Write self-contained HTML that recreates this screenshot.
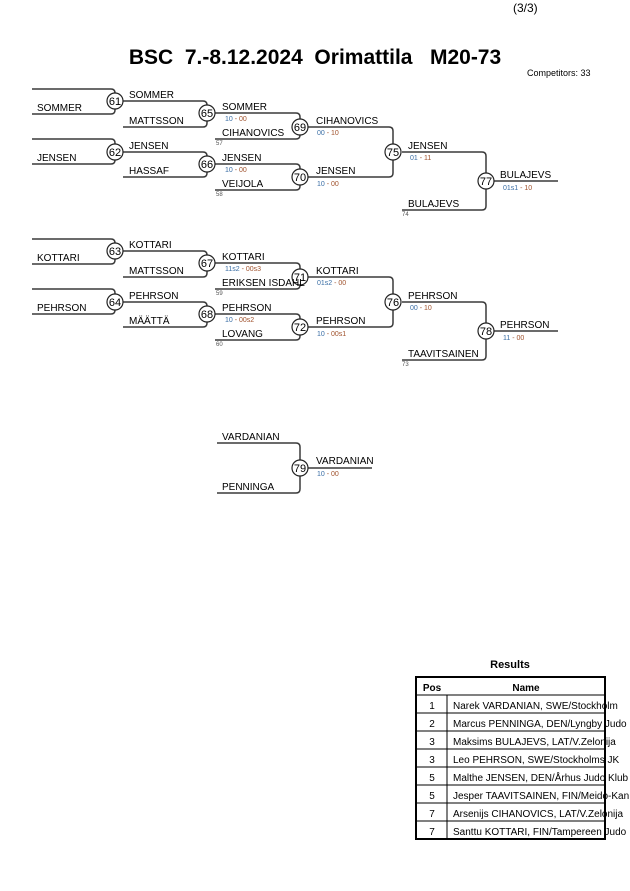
<!DOCTYPE html>
<html><head><meta charset="utf-8"><style>
html,body{margin:0;padding:0;background:#fff;}
svg{display:block;font-family:"Liberation Sans",Arial,sans-serif;}
.l{fill:none;stroke:#3a3a3a;stroke-width:1.5;}
.c{fill:#fff;stroke:#222;stroke-width:1.2;}
.n{font-size:10px;fill:#000;}
.cn{font-size:11px;fill:#000;text-anchor:middle;}
.s{font-size:7px;fill:#a0522d;}
.s tspan{fill:#3a6ea5;}
.t{font-size:6px;fill:#555;}
</style></head><body>
<svg width="630" height="891" viewBox="0 0 630 891">
<text x="513" y="12" font-size="12">(3/3)</text>
<text x="315" y="64" font-size="21" font-weight="bold" text-anchor="middle" xml:space="preserve">BSC  7.-8.12.2024  Orimattila   M20-73</text>
<text x="527" y="76" font-size="9">Competitors: 33</text>

<!-- Block 1 -->
<path class="l" d="M32 89H111Q115 89 115 93V110Q115 114 111 114H32"/>
<path class="l" d="M32 139H111Q115 139 115 143V160Q115 164 111 164H32"/>
<path class="l" d="M123 101H203Q207 101 207 105V123Q207 127 203 127H123"/>
<path class="l" d="M123 152H203Q207 152 207 156V173Q207 177 203 177H123"/>
<path class="l" d="M215 113H296Q300 113 300 117V135Q300 139 296 139H215"/>
<path class="l" d="M215 164H296Q300 164 300 168V186Q300 190 296 190H215"/>
<path class="l" d="M308 127H389Q393 127 393 131V173Q393 177 389 177H308"/>
<path class="l" d="M402 152H482Q486 152 486 156V206Q486 210 482 210H402"/>
<path class="l" d="M494 181H558"/>
<circle class="c" cx="115" cy="101" r="8"/><text class="cn" x="115" y="105">61</text>
<circle class="c" cx="115" cy="152" r="8"/><text class="cn" x="115" y="156">62</text>
<circle class="c" cx="207" cy="113" r="8"/><text class="cn" x="207" y="117">65</text>
<circle class="c" cx="207" cy="164" r="8"/><text class="cn" x="207" y="168">66</text>
<circle class="c" cx="300" cy="127" r="8"/><text class="cn" x="300" y="131">69</text>
<circle class="c" cx="300" cy="177" r="8"/><text class="cn" x="300" y="181">70</text>
<circle class="c" cx="393" cy="152" r="8"/><text class="cn" x="393" y="156">75</text>
<circle class="c" cx="486" cy="181" r="8"/><text class="cn" x="486" y="185">77</text>
<text class="n" x="37" y="111">SOMMER</text>
<text class="n" x="37" y="161">JENSEN</text>
<text class="n" x="129" y="98">SOMMER</text>
<text class="n" x="129" y="124">MATTSSON</text>
<text class="n" x="129" y="149">JENSEN</text>
<text class="n" x="129" y="174">HASSAF</text>
<text class="n" x="222" y="110">SOMMER</text>
<text class="s" x="225" y="121"><tspan>10</tspan> - 00</text>
<text class="n" x="222" y="136">CIHANOVICS</text>
<text class="t" x="216" y="145">57</text>
<text class="n" x="222" y="161">JENSEN</text>
<text class="s" x="225" y="172"><tspan>10</tspan> - 00</text>
<text class="n" x="222" y="187">VEIJOLA</text>
<text class="t" x="216" y="196">58</text>
<text class="n" x="316" y="124">CIHANOVICS</text>
<text class="s" x="317" y="135"><tspan>00</tspan> - 10</text>
<text class="n" x="316" y="174">JENSEN</text>
<text class="s" x="317" y="186"><tspan>10</tspan> - 00</text>
<text class="n" x="408" y="149">JENSEN</text>
<text class="s" x="410" y="160"><tspan>01</tspan> - 11</text>
<text class="n" x="408" y="207">BULAJEVS</text>
<text class="t" x="402" y="216">74</text>
<text class="n" x="500" y="178">BULAJEVS</text>
<text class="s" x="503" y="190"><tspan>01s1</tspan> - 10</text>

<!-- Block 2 -->
<g transform="translate(0,150)">
<path class="l" d="M32 89H111Q115 89 115 93V110Q115 114 111 114H32"/>
<path class="l" d="M32 139H111Q115 139 115 143V160Q115 164 111 164H32"/>
<path class="l" d="M123 101H203Q207 101 207 105V123Q207 127 203 127H123"/>
<path class="l" d="M123 152H203Q207 152 207 156V173Q207 177 203 177H123"/>
<path class="l" d="M215 113H296Q300 113 300 117V135Q300 139 296 139H215"/>
<path class="l" d="M215 164H296Q300 164 300 168V186Q300 190 296 190H215"/>
<path class="l" d="M308 127H389Q393 127 393 131V173Q393 177 389 177H308"/>
<path class="l" d="M402 152H482Q486 152 486 156V206Q486 210 482 210H402"/>
<path class="l" d="M494 181H558"/>
<circle class="c" cx="115" cy="101" r="8"/><text class="cn" x="115" y="105">63</text>
<circle class="c" cx="115" cy="152" r="8"/><text class="cn" x="115" y="156">64</text>
<circle class="c" cx="207" cy="113" r="8"/><text class="cn" x="207" y="117">67</text>
<circle class="c" cx="207" cy="164" r="8"/><text class="cn" x="207" y="168">68</text>
<circle class="c" cx="300" cy="127" r="8"/><text class="cn" x="300" y="131">71</text>
<circle class="c" cx="300" cy="177" r="8"/><text class="cn" x="300" y="181">72</text>
<circle class="c" cx="393" cy="152" r="8"/><text class="cn" x="393" y="156">76</text>
<circle class="c" cx="486" cy="181" r="8"/><text class="cn" x="486" y="185">78</text>
<text class="n" x="37" y="111">KOTTARI</text>
<text class="n" x="37" y="161">PEHRSON</text>
<text class="n" x="129" y="98">KOTTARI</text>
<text class="n" x="129" y="124">MATTSSON</text>
<text class="n" x="129" y="149">PEHRSON</text>
<text class="n" x="129" y="174">MÄÄTTÄ</text>
<text class="n" x="222" y="110">KOTTARI</text>
<text class="s" x="225" y="121"><tspan>11s2</tspan> - 00s3</text>
<text class="n" x="222" y="136">ERIKSEN ISDAHL</text>
<text class="t" x="216" y="145">59</text>
<text class="n" x="222" y="161">PEHRSON</text>
<text class="s" x="225" y="172"><tspan>10</tspan> - 00s2</text>
<text class="n" x="222" y="187">LOVANG</text>
<text class="t" x="216" y="196">60</text>
<text class="n" x="316" y="124">KOTTARI</text>
<text class="s" x="317" y="135"><tspan>01s2</tspan> - 00</text>
<text class="n" x="316" y="174">PEHRSON</text>
<text class="s" x="317" y="186"><tspan>10</tspan> - 00s1</text>
<text class="n" x="408" y="149">PEHRSON</text>
<text class="s" x="410" y="160"><tspan>00</tspan> - 10</text>
<text class="n" x="408" y="207">TAAVITSAINEN</text>
<text class="t" x="402" y="216">73</text>
<text class="n" x="500" y="178">PEHRSON</text>
<text class="s" x="503" y="190"><tspan>11</tspan> - 00</text>
</g>

<!-- Block 3 -->
<path class="l" d="M217 443H296Q300 443 300 447V489Q300 493 296 493H217"/>
<path class="l" d="M308 468H372"/>
<circle class="c" cx="300" cy="468" r="8"/><text class="cn" x="300" y="472">79</text>
<text class="n" x="222" y="440">VARDANIAN</text>
<text class="n" x="222" y="490">PENNINGA</text>
<text class="n" x="316" y="464">VARDANIAN</text>
<text class="s" x="317" y="476"><tspan>10</tspan> - 00</text>

<!-- Results -->
<text x="510" y="668" font-size="11" font-weight="bold" text-anchor="middle">Results</text>
<g font-size="10">
<text x="432" y="691" text-anchor="middle" font-weight="bold">Pos</text>
<text x="526" y="691" text-anchor="middle" font-weight="bold">Name</text>
<text x="432" y="709" text-anchor="middle">1</text><text x="453" y="709">Narek VARDANIAN, SWE/Stockholm</text>
<text x="432" y="727" text-anchor="middle">2</text><text x="453" y="727">Marcus PENNINGA, DEN/Lyngby Judo</text>
<text x="432" y="745" text-anchor="middle">3</text><text x="453" y="745">Maksims BULAJEVS, LAT/V.Zelonija</text>
<text x="432" y="763" text-anchor="middle">3</text><text x="453" y="763">Leo PEHRSON, SWE/Stockholms JK</text>
<text x="432" y="781" text-anchor="middle">5</text><text x="453" y="781">Malthe JENSEN, DEN/Århus Judo Klub</text>
<text x="432" y="799" text-anchor="middle">5</text><text x="453" y="799">Jesper TAAVITSAINEN, FIN/Meido-Kan</text>
<text x="432" y="817" text-anchor="middle">7</text><text x="453" y="817">Arsenijs CIHANOVICS, LAT/V.Zelonija</text>
<text x="432" y="835" text-anchor="middle">7</text><text x="453" y="835">Santtu KOTTARI, FIN/Tampereen Judo</text>
</g>
<g stroke="#000" stroke-width="1" fill="none">
<path d="M416 695H605M416 713H605M416 731H605M416 749H605M416 767H605M416 785H605M416 803H605M416 821H605"/>
<path d="M447 695V839"/>
</g>
<rect x="416" y="677" width="189" height="162" fill="none" stroke="#000" stroke-width="2"/>
</svg>
</body></html>
